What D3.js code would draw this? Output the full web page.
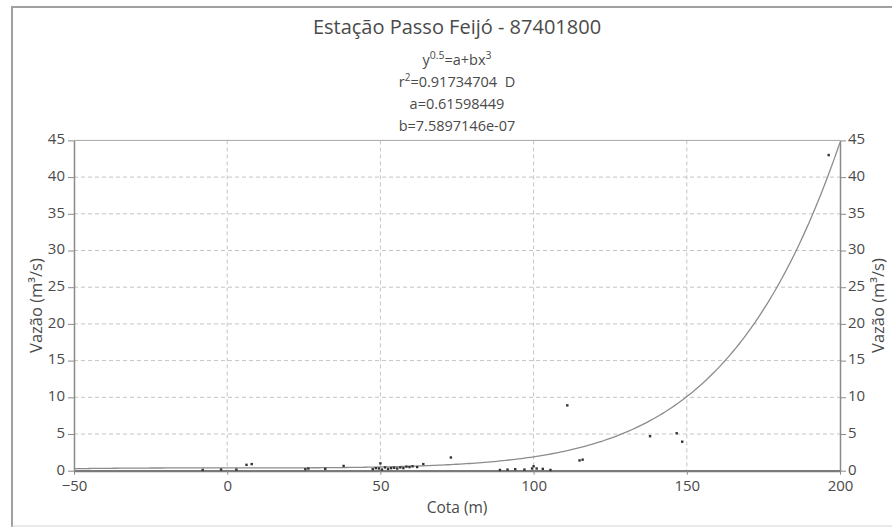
<!DOCTYPE html>
<html>
<head>
<meta charset="utf-8">
<script src="https://cdn.jsdelivr.net/npm/d3@7"></script>
<style>
  html, body { margin: 0; padding: 0; background: #ffffff; }
  svg { display: block; }
  text { font-family: "Open Sans", "Liberation Sans", sans-serif; fill: #4a4a4a; }
</style>
</head>
<body>
<script>
// Observed stage (cota, m) and discharge (vazão, m³/s)
const cota  = [-8, -2, 3, 6.3, 8, 25.5, 26.5, 32, 38, 47.5, 48.5, 49.5, 50, 50.5,
               51.5, 52.5, 53.5, 54.5, 55.5, 56.5, 57.5, 58.5, 59.5, 60.5, 62, 64, 73,
               89, 91.5, 94, 97, 99.5, 100, 101, 103, 105.5, 111, 115, 116,
               138, 146.7, 148.5, 196.3];
const vazao = [0.1, 0.15, 0.15, 0.8, 0.9, 0.2, 0.3, 0.25, 0.65, 0.2, 0.35, 0.3, 1.0, 0.15,
               0.45, 0.25, 0.35, 0.4, 0.3, 0.45, 0.35, 0.55, 0.5, 0.6, 0.5, 0.9, 1.8,
               0.1, 0.15, 0.2, 0.15, 0.3, 0.6, 0.3, 0.25, 0.1, 8.9, 1.4, 1.5,
               4.7, 5.1, 3.95, 43.0];

// Fitted rating curve: y^0.5 = a + b x^3
const coefA = 0.61598449;
const coefB = 7.5897146e-07;
const r2 = 0.91734704;

const xTicks = [-50, 0, 50, 100, 150, 200];
const yTicks = [0, 5, 10, 15, 20, 25, 30, 35, 40, 45];

const W = 892, H = 527;
const plot = { left: 74, right: 840, top: 140.4, bottom: 470.7 };

const svg = d3.select("body").append("svg").attr("width", W).attr("height", H);

// outer frame
svg.append("line").attr("x1", 12).attr("x2", W).attr("y1", 7).attr("y2", 7)
  .attr("stroke", "#a0a0a0").attr("stroke-width", 2);
svg.append("line").attr("x1", 12).attr("x2", 12).attr("y1", 6).attr("y2", H)
  .attr("stroke", "#a0a0a0").attr("stroke-width", 2);
svg.append("line").attr("x1", 12).attr("x2", W).attr("y1", 526).attr("y2", 526)
  .attr("stroke", "#d4d4d4").attr("stroke-width", 1);

const x = d3.scaleLinear().domain([-50, 200]).range([plot.left, plot.right]);
const y = d3.scaleLinear().domain([0, 45]).range([plot.bottom, plot.top]);

// gridlines
const grid = svg.append("g").attr("stroke", "#c4c4c4").attr("stroke-width", 1)
  .attr("stroke-dasharray", "4,3");
grid.selectAll(".gv").data(xTicks.filter(t => t > -50 && t < 200)).join("line")
  .attr("x1", d => x(d)).attr("x2", d => x(d))
  .attr("y1", plot.top).attr("y2", plot.bottom);
grid.selectAll(".gh").data(yTicks.filter(t => t > 0 && t < 45)).join("line")
  .attr("x1", plot.left).attr("x2", plot.right)
  .attr("y1", d => y(d)).attr("y2", d => y(d));

// top border of the plot area
svg.append("line").attr("x1", plot.left).attr("x2", plot.right)
  .attr("y1", plot.top).attr("y2", plot.top)
  .attr("stroke", "#a6a6a6").attr("stroke-width", 1);

// axes
function styleAxis(g) {
  g.selectAll(".domain").attr("stroke", "#8a8a8a").attr("stroke-width", 1.5);
  g.selectAll(".tick line").attr("stroke", "#8a8a8a").attr("stroke-width", 1);
  g.selectAll(".tick text").style("font-size", "15px").attr("fill", "#444444");
}

svg.append("g").attr("transform", `translate(0,${plot.bottom})`)
  .call(d3.axisBottom(x).tickValues(xTicks).tickSize(4).tickSizeOuter(0).tickPadding(6))
  .call(styleAxis)
  .call(g => g.select(".domain").attr("stroke-width", 2.2).attr("stroke", "#7a7a7a"));

svg.append("g").attr("transform", `translate(${plot.left},0)`)
  .call(d3.axisLeft(y).tickValues(yTicks).tickSize(6).tickSizeOuter(0).tickPadding(3))
  .call(styleAxis)
  .call(g => g.selectAll(".tick text").attr("dy", "0.22em"));

svg.append("g").attr("transform", `translate(${plot.right},0)`)
  .call(d3.axisRight(y).tickValues(yTicks).tickSize(6).tickSizeOuter(0).tickPadding(2))
  .call(styleAxis)
  .call(g => g.selectAll(".tick text").attr("dy", "0.22em"));

// fitted curve
const curveX = d3.range(-50, 200.01, 1);
const curve = d3.line()
  .x(d => x(d))
  .y(d => y(Math.pow(coefA + coefB * d * d * d, 2)));
svg.append("path").datum(curveX)
  .attr("d", curve)
  .attr("fill", "none").attr("stroke", "#8c8c8c").attr("stroke-width", 1.3);

// observations
const obs = cota.map((c, i) => ({ c, v: vazao[i] }));
svg.append("g").selectAll("rect").data(obs).join("rect")
  .attr("x", d => x(d.c) - 1.2).attr("y", d => y(d.v) - 1.2)
  .attr("width", 2.4).attr("height", 2.4)
  .attr("fill", "#333333");

// titles
const cx = (plot.left + plot.right) / 2;
svg.append("text").attr("x", cx).attr("y", 34).attr("text-anchor", "middle")
  .style("font-size", "20px").attr("fill", "#404040")
  .text("Estação Passo Feijó - 87401800");

const eq = svg.append("text").attr("x", cx).attr("y", 65).attr("text-anchor", "middle")
  .style("font-size", "14.5px").attr("fill", "#404040");
eq.append("tspan").text("y");
eq.append("tspan").attr("dy", -6).style("font-size", "10.5px").text("0.5");
eq.append("tspan").attr("dy", 6).text("=a+bx");
eq.append("tspan").attr("dy", -6).style("font-size", "10.5px").text("3");

const rt = svg.append("text").attr("x", cx).attr("y", 87).attr("text-anchor", "middle")
  .style("font-size", "14.5px").attr("fill", "#404040");
rt.append("tspan").text("r");
rt.append("tspan").attr("dy", -6).style("font-size", "10px").text("2");
rt.append("tspan").attr("dy", 6).text("=" + r2.toFixed(8) + "\u00a0\u00a0D");

svg.append("text").attr("x", cx).attr("y", 109).attr("text-anchor", "middle")
  .style("font-size", "14.5px").attr("fill", "#404040")
  .text("a=" + coefA.toFixed(8));

svg.append("text").attr("x", cx).attr("y", 131).attr("text-anchor", "middle")
  .style("font-size", "14.5px").attr("fill", "#404040")
  .text("b=7.5897146e-07");

// axis titles
svg.append("text").attr("x", cx).attr("y", 513).attr("text-anchor", "middle")
  .style("font-size", "15.5px").text("Cota (m)");

const midY = (plot.top + plot.bottom) / 2;
svg.append("text").attr("transform", `translate(42,${midY}) rotate(-90)`)
  .attr("text-anchor", "middle").style("font-size", "16.5px").text("Vazão (m³/s)");
svg.append("text").attr("transform", `translate(884,${midY}) rotate(-90)`)
  .attr("text-anchor", "middle").style("font-size", "16.5px").text("Vazão (m³/s)");
</script>
</body>
</html>
